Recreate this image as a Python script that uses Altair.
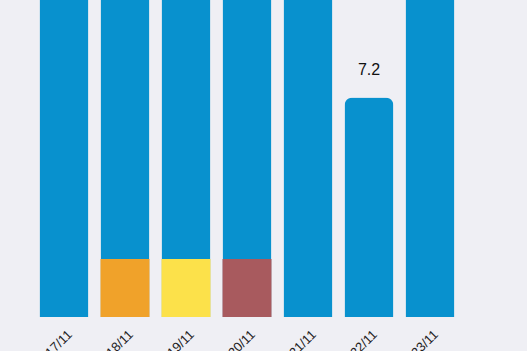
import altair as alt
import pandas as pd

days = ["17/11", "18/11", "19/11", "20/11", "21/11", "22/11", "23/11"]
totals = [11.8, 12.4, 12.1, 11.6, 12.9, 7.2, 13.3]
bottom_vals = [0, 1.9, 1.9, 1.9, 0, 0, 0]
bottom_colors = ["#0891CE", "#F0A22A", "#FCE14A", "#A85A5E", "#0891CE", "#0891CE", "#0891CE"]

df = pd.DataFrame({
    "day": days,
    "total": totals,
    "bottom": bottom_vals,
    "bcolor": bottom_colors,
    "label": [f"{v:.1f}" for v in totals],
})

x = alt.X("day:N", sort=days,
          scale=alt.Scale(range=[33.5, 460.5], paddingInner=0.197, paddingOuter=0.0985),
          axis=alt.Axis(title=None, labelAngle=-45, labelAlign="right", labelBaseline="middle",
                        ticks=False, domain=False, labelPadding=15, labelOffset=6, labelFontSize=13,
                        labelColor="#222222", labelFont="Liberation Sans", grid=False))
yscale = alt.Scale(domain=[0, 10.4], nice=False, zero=True)

base = alt.Chart(df)

bars = base.mark_bar(cornerRadiusEnd=8).encode(
    x=x,
    y=alt.Y("total:Q", scale=yscale, axis=None),
    color=alt.value("#0891CE"),
)

segs = base.transform_filter("datum.bottom > 0").mark_bar().encode(
    x=x,
    y=alt.Y("bottom:Q", scale=yscale, axis=None),
    color=alt.Color("bcolor:N", scale=None, legend=None),
)

labels = base.mark_text(fontSize=16, font="Liberation Sans", color="#111111",
                        baseline="alphabetic", dy=-22.5).encode(
    x=x,
    y=alt.Y("total:Q", scale=yscale, axis=None),
    text="label:N",
)

chart = (bars + segs + labels).properties(
    width=527, height=317,
    background="#EFEFF4",
    padding={"left": 0, "top": 0, "right": 0, "bottom": 34},
    autosize=alt.AutoSizeParams(type="none"),
).configure_view(stroke=None).configure_axis(grid=False)

chart.save("out.html", embed_options={"renderer": "svg", "actions": False})
